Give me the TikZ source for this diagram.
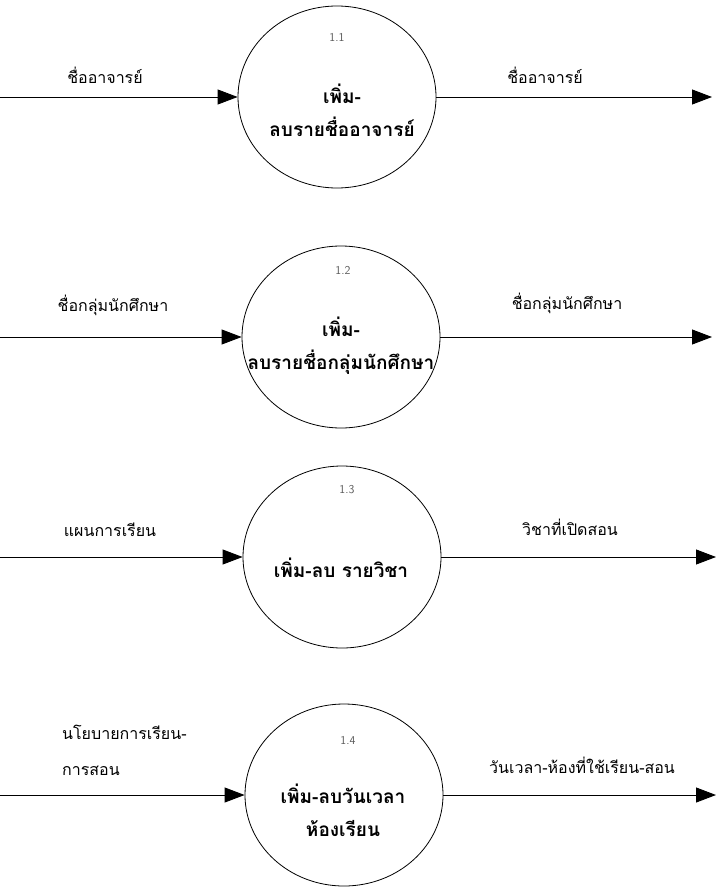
\documentclass[tikz,border=0pt]{standalone}
\usepackage{fontspec}
\newfontfamily\thaifont[Script=Thai]{Loma}
\usetikzlibrary{arrows.meta,shapes.geometric}
\tikzset{
  procNode/.style={ellipse,draw,line width=0.8pt,minimum width=198pt,minimum height=182pt,inner sep=0pt},
  procText/.style={font=\thaifont\bfseries\fontsize{19}{33}\selectfont,align=center,inner sep=0pt},
  numLabel/.style={font=\sffamily\fontsize{12}{12}\selectfont,text=black!65,inner sep=0pt},
  flowLabel/.style={font=\thaifont\fontsize{16}{36}\selectfont,inner sep=0pt},
  flowArrow/.style={line width=0.9pt,-{Triangle[length=20pt,width=15pt]}}
}
\begin{document}
\begin{tikzpicture}[x=1pt,y=-1pt]
  \useasboundingbox (0,0) rectangle (718,888);
  % processes
  \node[procNode] (p1) at (337,97) {};
  \node[procNode] (p2) at (341,337) {};
  \node[procNode] (p3) at (342,557) {};
  \node[procNode] (p4) at (344,795) {};
  \node[numLabel] (n1) at (337,37) {1.1};
  \node[numLabel] (n2) at (343,270) {1.2};
  \node[numLabel] (n3) at (347,490) {1.3};
  \node[numLabel] (n4) at (348,740) {1.4};
  \node[procText] (t1) at (342,110) {เพิ่ม-\\ลบรายชื่ออาจารย์};
  \node[procText] (t2) at (341,346) {เพิ่ม-\\ลบรายชื่อกลุ่มนักศึกษา};
  \node[procText] (t3) at (341,568) {เพิ่ม-ลบ รายวิชา};
  \node[procText] (t4) at (343,810) {เพิ่ม-ลบวันเวลา\\ห้องเรียน};
  % free ends
  \coordinate (in1) at (0,97);
  \coordinate (in2) at (0,337);
  \coordinate (in3) at (0,557);
  \coordinate (in4) at (0,795);
  \coordinate (out1) at (712,97);
  \coordinate (out2) at (712,337);
  \coordinate (out3) at (716,557);
  \coordinate (out4) at (716,795);
  % flows
  \draw[flowArrow] (in1) -- (p1.west);
  \draw[flowArrow] (p1.east) -- (out1);
  \draw[flowArrow] (in2) -- (p2.west);
  \draw[flowArrow] (p2.east) -- (out2);
  \draw[flowArrow] (in3) -- (p3.west);
  \draw[flowArrow] (p3.east) -- (out3);
  \draw[flowArrow] (in4) -- (p4.west);
  \draw[flowArrow] (p4.east) -- (out4);
  % labels
  \node[flowLabel] (l1) at (105,75) {ชื่ออาจารย์};
  \node[flowLabel] (r1) at (545,75) {ชื่ออาจารย์};
  \node[flowLabel] (l2) at (113,305) {ชื่อกลุ่มนักศึกษา};
  \node[flowLabel] (r2) at (567,303) {ชื่อกลุ่มนักศึกษา};
  \node[flowLabel] (l3) at (110,530) {แผนการเรียน};
  \node[flowLabel] (r3) at (570,527) {วิชาที่เปิดสอน};
  \node[flowLabel,align=left,anchor=west] (l4) at (62,750) {นโยบายการเรียน-\\การสอน};
  \node[flowLabel] (r4) at (582,765) {วันเวลา-ห้องที่ใช้เรียน-สอน};
\end{tikzpicture}
\end{document}
